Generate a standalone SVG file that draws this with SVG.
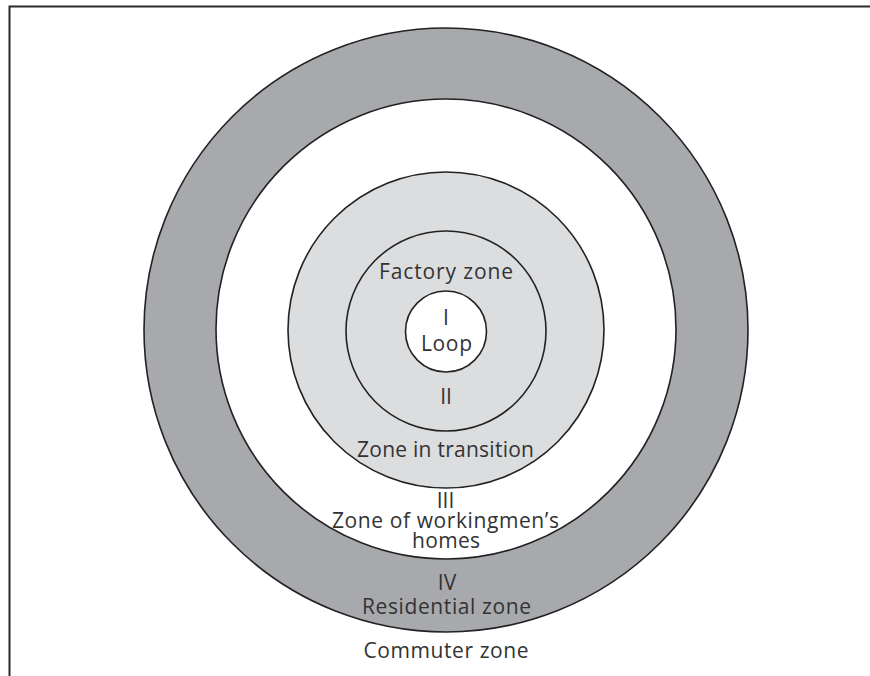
<svg xmlns="http://www.w3.org/2000/svg" width="870" height="676" viewBox="0 0 870 676">
<style>
.ring{stroke:#222;stroke-width:1.6}
.t{font-family:"Open Sans","Liberation Sans",sans-serif;font-size:21px;fill:#333;text-anchor:middle}
</style>
<rect x="0" y="0" width="870" height="676" fill="#fff"/>
<path d="M9.5,676 V6.5 H870" fill="none" stroke="#2a2a2a" stroke-width="2"/>
<g id="zone-commuter">
<text class="t" x="446" y="658" textLength="165" lengthAdjust="spacing">Commuter zone</text>
</g>
<g id="zone-residential">
<circle class="ring" cx="446" cy="330" r="302" fill="#a8a9ac"/>
<text class="t" x="447" y="590">IV</text>
<text class="t" x="446.5" y="614" textLength="169" lengthAdjust="spacing">Residential zone</text>
</g>
<g id="zone-workingmen">
<circle class="ring" cx="446" cy="329" r="230" fill="#ffffff"/>
<text class="t" x="445.5" y="508">III</text>
<text class="t" x="445.5" y="528" textLength="227" lengthAdjust="spacing">Zone of workingmen’s</text>
<text class="t" x="446" y="548" textLength="68" lengthAdjust="spacing">homes</text>
</g>
<g id="zone-transition">
<circle class="ring" cx="446" cy="330" r="158" fill="#dcdddf"/>
<text class="t" x="445.5" y="457" textLength="177" lengthAdjust="spacing">Zone in transition</text>
</g>
<g id="zone-factory">
<circle class="ring" cx="446" cy="331" r="100" fill="#dcdddf"/>
<text class="t" x="446" y="279" textLength="134" lengthAdjust="spacing">Factory zone</text>
<text class="t" x="446" y="404">II</text>
</g>
<g id="zone-loop">
<circle class="ring" cx="446" cy="331.5" r="40.5" fill="#ffffff"/>
<text class="t" x="446" y="325">I</text>
<text class="t" x="446.5" y="351" textLength="51" lengthAdjust="spacing">Loop</text>
</g>
</svg>
